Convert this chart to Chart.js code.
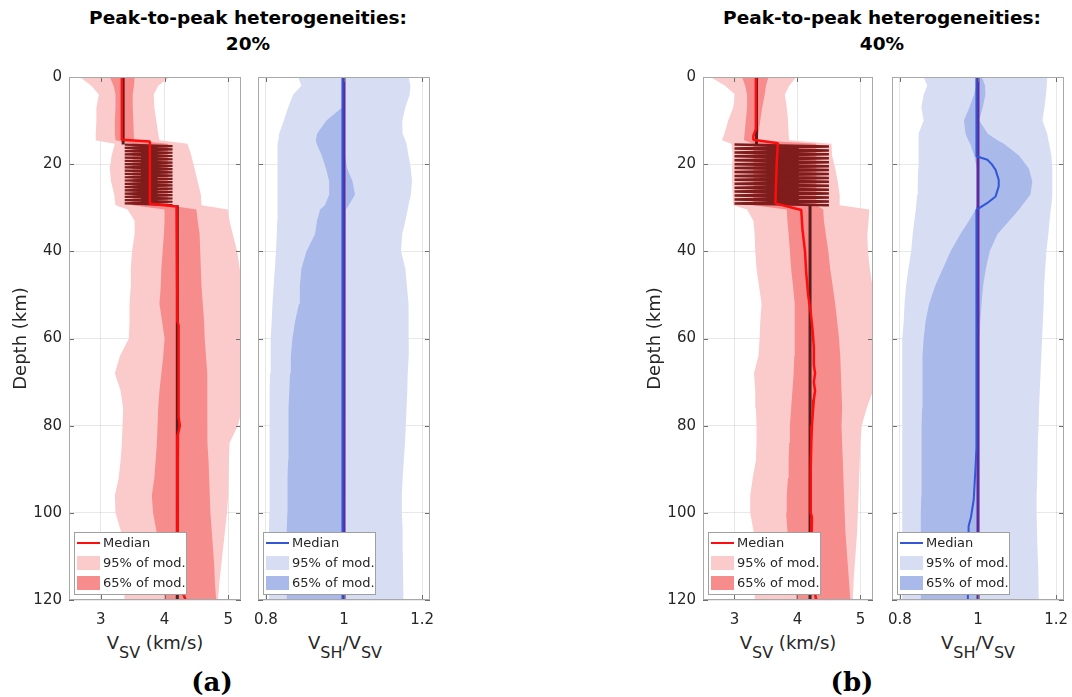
<!DOCTYPE html>
<html>
<head>
<meta charset="utf-8">
<script src="https://cdn.jsdelivr.net/npm/chart.js@4"></script>
<style>
  html, body { margin: 0; padding: 0; background: #fff; overflow: hidden; }
  #wrap { position: relative; width: 1072px; height: 697px; overflow: hidden; font-family: "DejaVu Sans", sans-serif; }
  canvas { position: absolute; }
  .ttl { position: absolute; transform: translateX(-50%); text-align: center; font-weight: bold; font-size: 18.5px; line-height: 25.5px; white-space: nowrap; color: #000; }
  .xt { position: absolute; transform: translateX(-50%); font-size: 18px; line-height: 18px; white-space: nowrap; color: #262626; }
  .xt sub { font-size: 16px; vertical-align: -9px; line-height: 0; }
  .tag { position: absolute; transform: translate(-50%, -50%); font-family: "DejaVu Serif", serif; font-weight: bold; font-size: 26px; color: #000; }
</style>
</head>
<body>
<div id="wrap">
  <div class="ttl" style="left:248px; top:5px;">Peak-to-peak heterogeneities:<br>20%</div>
  <div class="ttl" style="left:882px; top:5px;">Peak-to-peak heterogeneities:<br>40%</div>

  <canvas id="vsA" width="247" height="573" style="left:0px; top:57px;"></canvas>
  <canvas id="ratioA" width="188" height="573" style="left:250px; top:57px;"></canvas>
  <canvas id="vsB" width="245" height="573" style="left:634px; top:57px;"></canvas>
  <canvas id="ratioB" width="188" height="573" style="left:884px; top:57px;"></canvas>

  <div class="xt" style="left:155px; top:634px;">V<sub>SV</sub> (km/s)</div>
  <div class="xt" style="left:345px; top:634px;">V<sub>SH</sub>/V<sub>SV</sub></div>
  <div class="xt" style="left:788px; top:634px;">V<sub>SV</sub> (km/s)</div>
  <div class="xt" style="left:978px; top:634px;">V<sub>SH</sub>/V<sub>SV</sub></div>

  <div class="tag" style="left:212px; top:682px;">(a)</div>
  <div class="tag" style="left:852px; top:682px;">(b)</div>
</div>

<script>
// TICKS
const depthTicks = [0, 20, 40, 60, 80, 100, 120];
const vsTicks = [3, 4, 5];
const ratioTicks = [0.8, 1, 1.2];

// depths (km) where the percentile envelopes were read
const bandDepth = [0, 2, 4, 7, 10, 13, 14.5, 15.3, 18, 21, 24, 27, 29.4, 30.4, 33, 36, 40, 44, 48, 52, 56, 60, 64, 68, 72, 76, 80, 84, 88, 92, 96, 100, 104, 108, 112, 116, 120];

// (a) 20% - Vsv envelopes
const vsA_lo95 = [2.67, 2.85, 2.97, 2.93, 2.93, 2.92, 2.91, 3.22, 3.17, 3.14, 3.16, 3.21, 3.23, 3.42, 3.53, 3.53, 3.49, 3.47, 3.47, 3.45, 3.45, 3.44, 3.3, 3.22, 3.31, 3.35, 3.34, 3.33, 3.31, 3.28, 3.22, 3.23, 3.31, 3.35, 3.36, 3.37, 3.37];
const vsA_hi95 = [4.08, 3.9, 3.83, 3.84, 3.87, 3.9, 3.92, 4.36, 4.42, 4.47, 4.52, 4.57, 4.58, 4.99, 5.02, 5.07, 5.14, 5.18, 5.25, 5.25, 5.25, 5.25, 5.25, 5.25, 5.25, 5.22, 5.15, 5.02, 5.01, 5.0, 5.0, 4.98, 4.95, 4.92, 4.89, 4.86, 4.84];
const vsA_lo65 = [3.14, 3.2, 3.23, 3.23, 3.22, 3.22, 3.23, 3.5, 3.5, 3.5, 3.5, 3.5, 3.5, 4.0, 4.0, 3.99, 3.97, 3.95, 3.94, 3.92, 3.96, 4.0, 3.98, 3.95, 3.92, 3.9, 3.89, 3.88, 3.86, 3.84, 3.8, 3.82, 3.87, 3.92, 3.95, 3.98, 4.0];
const vsA_hi65 = [3.53, 3.52, 3.5, 3.5, 3.51, 3.52, 3.52, 4.05, 4.05, 4.05, 4.05, 4.05, 4.05, 4.5, 4.52, 4.55, 4.56, 4.57, 4.58, 4.6, 4.62, 4.63, 4.65, 4.67, 4.67, 4.67, 4.67, 4.68, 4.69, 4.7, 4.71, 4.72, 4.74, 4.76, 4.78, 4.79, 4.81];

// (a) 20% - Vsh/Vsv envelopes
const ratioA_lo95 = [0.883, 0.891, 0.87, 0.857, 0.846, 0.834, 0.832, 0.831, 0.829, 0.829, 0.83, 0.83, 0.83, 0.83, 0.829, 0.828, 0.826, 0.823, 0.82, 0.817, 0.815, 0.813, 0.812, 0.811, 0.81, 0.81, 0.81, 0.81, 0.809, 0.809, 0.809, 0.809, 0.808, 0.808, 0.808, 0.808, 0.808];
const ratioA_hi95 = [1.165, 1.17, 1.168, 1.157, 1.149, 1.15, 1.157, 1.16, 1.165, 1.171, 1.174, 1.171, 1.165, 1.163, 1.157, 1.149, 1.146, 1.157, 1.161, 1.165, 1.166, 1.166, 1.165, 1.163, 1.162, 1.16, 1.158, 1.156, 1.153, 1.15, 1.148, 1.148, 1.15, 1.15, 1.151, 1.152, 1.152];
const ratioA_lo65 = [0.998, 0.998, 0.998, 0.995, 0.955, 0.931, 0.928, 0.93, 0.943, 0.954, 0.962, 0.962, 0.951, 0.939, 0.931, 0.926, 0.904, 0.891, 0.887, 0.885, 0.875, 0.868, 0.864, 0.862, 0.86, 0.859, 0.858, 0.857, 0.857, 0.856, 0.855, 0.855, 0.854, 0.854, 0.853, 0.853, 0.853];
const ratioA_hi65 = [1.003, 1.003, 1.003, 1.003, 1.003, 1.003, 1.003, 1.003, 1.003, 1.008, 1.022, 1.028, 1.012, 1.005, 1.003, 1.003, 1.003, 1.003, 1.003, 1.003, 1.003, 1.003, 1.003, 1.003, 1.003, 1.003, 1.003, 1.003, 1.003, 1.003, 1.003, 1.003, 1.003, 1.003, 1.003, 1.003, 1.003];

// (b) 40% - Vsv envelopes
const vsB_lo95 = [2.62, 2.85, 3.01, 2.98, 2.9, 2.84, 2.8, 2.95, 2.97, 2.96, 2.96, 2.97, 2.98, 3.2, 3.3, 3.32, 3.33, 3.35, 3.39, 3.43, 3.41, 3.4, 3.38, 3.31, 3.33, 3.34, 3.35, 3.35, 3.34, 3.29, 3.25, 3.25, 3.3, 3.32, 3.33, 3.33, 3.32];
const vsB_hi95 = [3.98, 3.87, 3.8, 3.83, 3.85, 3.86, 3.87, 4.54, 4.55, 4.6, 4.64, 4.67, 4.67, 5.14, 5.13, 5.11, 5.12, 5.15, 5.19, 5.25, 5.25, 5.25, 5.25, 5.25, 5.2, 5.1, 5.02, 5.0, 4.99, 4.98, 4.97, 4.96, 4.95, 4.93, 4.91, 4.89, 4.88];
const vsB_lo65 = [3.12, 3.17, 3.2, 3.2, 3.18, 3.16, 3.15, 3.3, 3.3, 3.3, 3.3, 3.3, 3.3, 3.83, 3.84, 3.86, 3.88, 3.9, 3.93, 3.95, 3.96, 3.96, 3.95, 3.94, 3.92, 3.9, 3.88, 3.87, 3.86, 3.85, 3.83, 3.82, 3.84, 3.88, 3.93, 3.96, 3.98];
const vsB_hi65 = [3.54, 3.5, 3.48, 3.44, 3.41, 3.38, 3.37, 4.3, 4.3, 4.3, 4.3, 4.3, 4.3, 4.41, 4.42, 4.45, 4.49, 4.52, 4.56, 4.6, 4.63, 4.66, 4.68, 4.69, 4.7, 4.71, 4.7, 4.71, 4.72, 4.73, 4.74, 4.75, 4.76, 4.78, 4.8, 4.82, 4.84];

// (b) 40% - Vsh/Vsv envelopes
const ratioB_lo95 = [0.861, 0.87, 0.861, 0.855, 0.861, 0.848, 0.848, 0.848, 0.848, 0.847, 0.846, 0.844, 0.842, 0.841, 0.837, 0.833, 0.829, 0.822, 0.816, 0.812, 0.81, 0.808, 0.807, 0.806, 0.806, 0.806, 0.806, 0.806, 0.806, 0.806, 0.806, 0.806, 0.806, 0.806, 0.806, 0.806, 0.806];
const ratioB_hi95 = [1.177, 1.176, 1.174, 1.17, 1.165, 1.177, 1.18, 1.182, 1.188, 1.19, 1.19, 1.19, 1.188, 1.186, 1.183, 1.18, 1.175, 1.172, 1.169, 1.168, 1.166, 1.164, 1.162, 1.16, 1.158, 1.156, 1.155, 1.153, 1.152, 1.151, 1.15, 1.15, 1.151, 1.152, 1.154, 1.155, 1.156];
const ratioB_lo65 = [0.996, 0.995, 0.99, 0.978, 0.964, 0.968, 0.975, 0.98, 0.99, 0.997, 0.997, 0.997, 0.996, 0.994, 0.977, 0.955, 0.93, 0.91, 0.89, 0.875, 0.866, 0.861, 0.859, 0.858, 0.857, 0.857, 0.856, 0.856, 0.856, 0.855, 0.855, 0.854, 0.854, 0.854, 0.853, 0.853, 0.853];
const ratioB_hi65 = [1.01, 1.018, 1.019, 1.012, 1.003, 1.025, 1.05, 1.066, 1.105, 1.13, 1.139, 1.134, 1.113, 1.105, 1.08, 1.05, 1.03, 1.02, 1.013, 1.009, 1.006, 1.004, 1.004, 1.004, 1.004, 1.004, 1.004, 1.004, 1.004, 1.004, 1.004, 1.004, 1.004, 1.004, 1.004, 1.004, 1.004];

// medians
const medDepthVsA = [0, 14.4, 14.8, 29.1, 29.7, 50, 56, 57, 78, 80, 82, 90, 112, 116, 120];
const medVsA = [3.33, 3.33, 3.77, 3.77, 4.19, 4.2, 4.2, 4.22, 4.22, 4.24, 4.21, 4.2, 4.2, 4.23, 4.33];
const medDepthVsB = [0, 12, 13.5, 14.4, 15.2, 20, 29, 30.5, 35, 40, 45, 50, 54, 58, 62, 66, 68, 70, 72, 74, 76, 80, 84, 90, 100, 101, 104, 110, 116, 120];
const medVsB = [3.34, 3.34, 3.3, 3.3, 3.69, 3.67, 3.65, 4.06, 4.08, 4.12, 4.14, 4.17, 4.21, 4.24, 4.26, 4.26, 4.28, 4.26, 4.28, 4.26, 4.25, 4.23, 4.22, 4.21, 4.21, 4.23, 4.22, 4.22, 4.24, 4.3];
const medDepthRatioA = [0, 120];
const medRatioA = [0.996, 0.996];
const medDepthRatioB = [0, 18.2, 19, 20, 21.3, 23.6, 25.1, 27.4, 28.9, 30.5, 85, 89, 97, 101, 103, 120];
const medRatioB = [0.996, 0.996, 1.024, 1.035, 1.045, 1.053, 1.053, 1.045, 1.024, 0.996, 0.996, 0.994, 0.989, 0.982, 0.976, 0.974];

// true model
const trueDepthTop = [0, 15.5];
const trueVsTop = [3.35, 3.35];
const trueDepthBot = [29.4, 120];
const trueVsBot = [4.2, 4.2];
const trueDepthRatio = [0, 120];
const trueRatio = [1, 1];

// layered (heterogeneous) part of the true model
const zigDepthA = [15.5, 15.875, 16.25, 16.625, 17, 17.375, 17.75, 18.125, 18.5, 18.875, 19.25, 19.625, 20, 20.375, 20.75, 21.125, 21.5, 21.875, 22.25, 22.625, 23, 23.375, 23.75, 24.125, 24.5, 24.875, 25.25, 25.625, 26, 26.375, 26.75, 27.125, 27.5, 27.875, 28.25, 28.625, 29, 29.375];
const zigVsA = [3.375, 4.125, 3.375, 4.125, 3.375, 4.125, 3.375, 4.125, 3.375, 4.125, 3.375, 4.125, 3.375, 4.125, 3.375, 4.125, 3.375, 4.125, 3.375, 4.125, 3.375, 4.125, 3.375, 4.125, 3.375, 4.125, 3.375, 4.125, 3.375, 4.125, 3.375, 4.125, 3.375, 4.125, 3.375, 4.125, 3.375, 4.125];
const zigDepthB = [15.5, 15.95, 16.4, 16.85, 17.3, 17.75, 18.2, 18.65, 19.1, 19.55, 20, 20.45, 20.9, 21.35, 21.8, 22.25, 22.7, 23.15, 23.6, 24.05, 24.5, 24.95, 25.4, 25.85, 26.3, 26.75, 27.2, 27.65, 28.1, 28.55, 29, 29.45];
const zigVsB = [3.0, 4.5, 3.0, 4.5, 3.0, 4.5, 3.0, 4.5, 3.0, 4.5, 3.0, 4.5, 3.0, 4.5, 3.0, 4.5, 3.0, 4.5, 3.0, 4.5, 3.0, 4.5, 3.0, 4.5, 3.0, 4.5, 3.0, 4.5, 3.0, 4.5, 3.0, 4.5];
// where the layers overlap into a solid block
const coreDepthA = [15.6, 29.3];
const coreLoA = [3.63, 3.63];
const coreHiA = [3.89, 3.89];
const coreDepthB = [15.6, 29.3];
const coreLoB = [3.51, 3.51];
const coreHiB = [4.02, 4.02];

// COLOURS
const redLight = '#fbcaca';
const redDark = '#f68c8c';
const blueLight = '#d7def4';
const blueDark = '#a9b9e9';
const redMedian = '#ff0d0d';
const blueMedian = '#3256d6';
const trueRed = '#5a1c1c';
const zigRed = '#7f1c1c';
const truePurple = '#5e2a9c';

Chart.defaults.font.family = '"DejaVu Sans", sans-serif';
Chart.defaults.color = '#262626';

function pts(xs, ys) {
    return xs.map(function (v, i) { return { x: v, y: ys[i] }; });
}

function lineSet(label, xs, ys, color, width, order) {
    return { label: label, data: pts(xs, ys), borderColor: color, borderWidth: width,
             pointRadius: 0, fill: false, order: order, borderJoinStyle: 'bevel' };
}

function fillPair(label, lo, hi, depth, color, order) {
    return [
        { label: label + ' low', data: pts(lo, depth), borderColor: 'rgba(0,0,0,0)',
          borderWidth: 0, pointRadius: 0, fill: false, order: order },
        { label: label, data: pts(hi, depth), borderColor: 'rgba(0,0,0,0)',
          borderWidth: 0, pointRadius: 0, backgroundColor: color, fill: '-1', order: order }
    ];
}

function bandSets(label, lo, hi, color, order, rank) {
    const sets = fillPair(label, lo, hi, bandDepth, color, order);
    sets[1].legendKind = 'box';
    sets[1].legendRank = rank;
    return sets;
}

// box, inward ticks and legend (matlab look)
const framePlugin = {
    id: 'frame',
    afterDraw(chart) {
        const ctx = chart.ctx;
        const a = chart.chartArea;
        const sx = chart.scales.x, sy = chart.scales.y;
        ctx.save();
        ctx.lineWidth = 1;
        ctx.strokeStyle = '#6e6e6e';
        ctx.beginPath();
        sx.ticks.forEach(function (t) {
            const px = Math.round(sx.getPixelForValue(t.value)) + 0.5;
            ctx.moveTo(px, a.top); ctx.lineTo(px, a.top + 5);
            ctx.moveTo(px, a.bottom); ctx.lineTo(px, a.bottom - 5);
        });
        sy.ticks.forEach(function (t) {
            const py = Math.round(sy.getPixelForValue(t.value)) + 0.5;
            ctx.moveTo(a.left, py); ctx.lineTo(a.left + 5, py);
            ctx.moveTo(a.right, py); ctx.lineTo(a.right - 5, py);
        });
        ctx.stroke();
        ctx.strokeStyle = '#a8a8a8';
        ctx.strokeRect(a.left + 0.5, a.top + 0.5, a.right - a.left - 1, a.bottom - a.top - 1);

        // legend
        const items = chart.data.datasets.filter(function (d) { return d.legendKind; })
            .sort(function (p, q) { return p.legendRank - q.legendRank; });
        const bw = 112, bh = 62;
        const bx = Math.round(a.left) + 5, by = Math.round(a.bottom) - 6 - bh;
        ctx.fillStyle = '#ffffff';
        ctx.fillRect(bx, by, bw, bh);
        ctx.strokeStyle = '#a0a0a0';
        ctx.strokeRect(bx + 0.5, by + 0.5, bw, bh);
        ctx.font = '13px "DejaVu Sans"';
        ctx.textBaseline = 'middle';
        ctx.textAlign = 'left';
        items.forEach(function (d, i) {
            const cy = by + 11 + i * 20;
            if (d.legendKind === 'line') {
                ctx.strokeStyle = d.borderColor;
                ctx.lineWidth = 2;
                ctx.beginPath();
                ctx.moveTo(bx + 3, cy); ctx.lineTo(bx + 26, cy);
                ctx.stroke();
            } else {
                ctx.fillStyle = d.backgroundColor;
                ctx.fillRect(bx + 3, cy - 7, 23, 14);
            }
            ctx.fillStyle = '#262626';
            ctx.fillText(d.label, bx + 29, cy + 1);
        });
        ctx.restore();
    }
};

function drawPanel(canvasId, datasets, xMin, xMax, xTicks, showDepth, padRight) {
    new Chart(document.getElementById(canvasId), {
        type: 'line',
        data: { datasets: datasets },
        options: {
            responsive: false,
            animation: false,
            indexAxis: 'y',
            layout: { padding: { top: 20, right: padRight, left: 0, bottom: 0 } },
            plugins: { legend: { display: false }, tooltip: { enabled: false } },
            elements: { line: { tension: 0 }, point: { radius: 0 } },
            scales: {
                x: {
                    type: 'linear', position: 'bottom', min: xMin, max: xMax, z: 1,
                    afterBuildTicks: function (s) { s.ticks = xTicks.map(function (v) { return { value: v }; }); },
                    afterFit: function (s) { s.height = 30; },
                    grid: { color: 'rgba(0,0,0,0.09)', drawTicks: true, tickLength: 8, tickColor: 'rgba(0,0,0,0)' },
                    border: { display: false },
                    ticks: { padding: 3, color: '#262626', font: { size: 15 }, maxRotation: 0,
                             callback: function (v) { return String(v); } }
                },
                y: {
                    type: 'linear', position: 'left', reverse: true, min: 0, max: 120, z: 1,
                    afterBuildTicks: function (s) { s.ticks = depthTicks.map(function (v) { return { value: v }; }); },
                    afterFit: function (s) { s.width = showDepth ? 69 : 8; },
                    grid: { color: 'rgba(0,0,0,0.09)', drawTicks: false },
                    border: { display: false },
                    ticks: { display: showDepth, padding: 7, color: '#262626', font: { size: 15 },
                             callback: function (v) { return String(v); } },
                    title: { display: showDepth, text: 'Depth (km)', color: '#262626',
                             font: { size: 18 }, padding: { top: 11, bottom: 0 } }
                }
            }
        },
        plugins: [framePlugin]
    });
}

function medianSet(xs, ys, color, width) {
    const d = lineSet('Median', xs, ys, color, width, 1);
    d.legendKind = 'line';
    d.legendRank = 0;
    return d;
}

// (a) Vsv
drawPanel('vsA', [].concat(
    bandSets('95% of mod.', vsA_lo95, vsA_hi95, redLight, 10, 1),
    bandSets('65% of mod.', vsA_lo65, vsA_hi65, redDark, 9, 2),
    fillPair('layer core', coreLoA, coreHiA, coreDepthA, zigRed, 6),
    [lineSet('true top', trueVsTop, trueDepthTop, trueRed, 3, 5),
     lineSet('true bottom', trueVsBot, trueDepthBot, trueRed, 3, 5),
     lineSet('layers', zigVsA, zigDepthA, zigRed, 2.2, 5),
     medianSet(medVsA, medDepthVsA, redMedian, 2.5)]
), 2.5, 5.2, vsTicks, true, 6);

// (a) Vsh/Vsv
drawPanel('ratioA', [].concat(
    bandSets('95% of mod.', ratioA_lo95, ratioA_hi95, blueLight, 10, 1),
    bandSets('65% of mod.', ratioA_lo65, ratioA_hi65, blueDark, 9, 2),
    [lineSet('true', trueRatio, trueDepthRatio, truePurple, 3, 5),
     medianSet(medRatioA, medDepthRatioA, blueMedian, 2)]
), 0.78, 1.22, ratioTicks, false, 8);

// (b) Vsv
drawPanel('vsB', [].concat(
    bandSets('95% of mod.', vsB_lo95, vsB_hi95, redLight, 10, 1),
    bandSets('65% of mod.', vsB_lo65, vsB_hi65, redDark, 9, 2),
    fillPair('layer core', coreLoB, coreHiB, coreDepthB, zigRed, 6),
    [lineSet('true top', trueVsTop, trueDepthTop, trueRed, 3, 5),
     lineSet('true bottom', trueVsBot, trueDepthBot, trueRed, 3, 5),
     lineSet('layers', zigVsB, zigDepthB, zigRed, 2.5, 5),
     medianSet(medVsB, medDepthVsB, redMedian, 2.5)]
), 2.5, 5.2, vsTicks, true, 6);

// (b) Vsh/Vsv
drawPanel('ratioB', [].concat(
    bandSets('95% of mod.', ratioB_lo95, ratioB_hi95, blueLight, 10, 1),
    bandSets('65% of mod.', ratioB_lo65, ratioB_hi65, blueDark, 9, 2),
    [lineSet('true', trueRatio, trueDepthRatio, truePurple, 3, 5),
     medianSet(medRatioB, medDepthRatioB, blueMedian, 2)]
), 0.78, 1.22, ratioTicks, false, 8);
</script>
</body>
</html>
